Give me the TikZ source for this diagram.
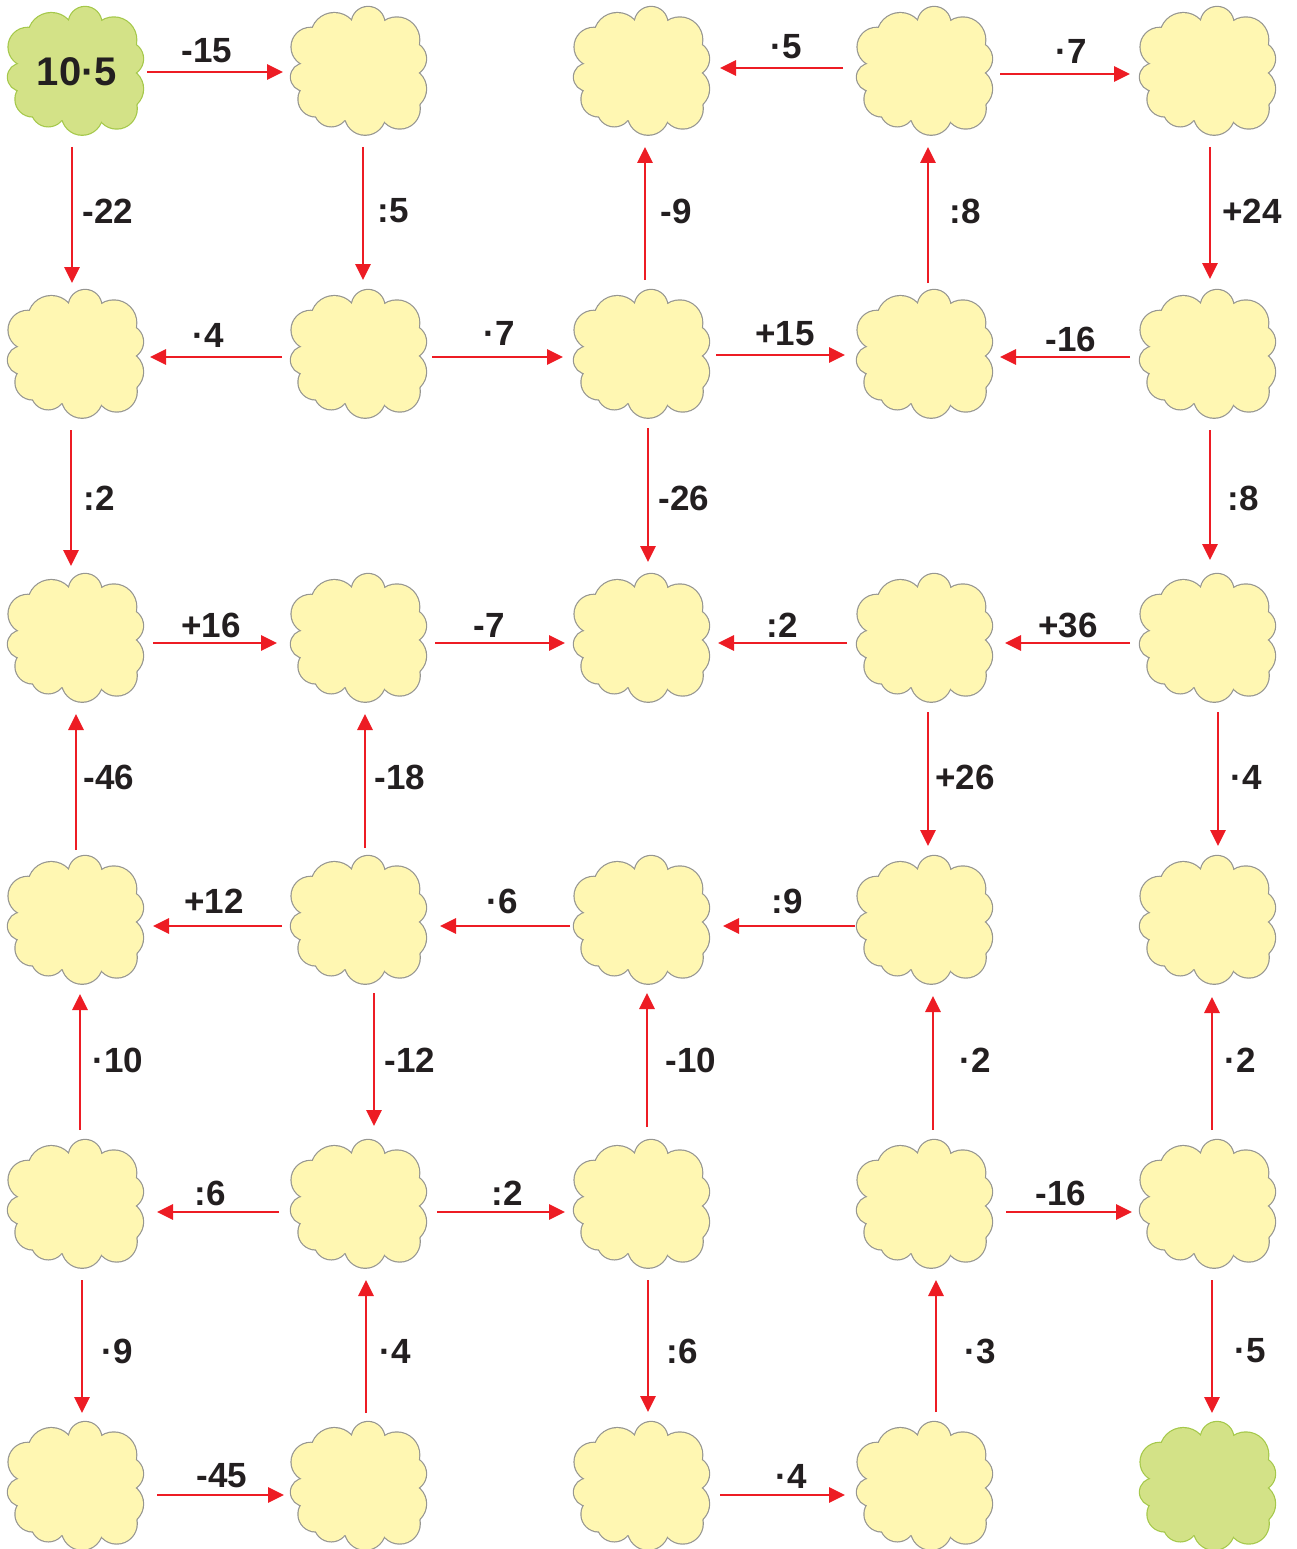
\documentclass[tikz,border=0pt]{standalone}
\usepackage{fontspec}
\setmainfont{Liberation Sans}
\usetikzlibrary{arrows.meta}
\definecolor{cloudY}{RGB}{255,247,178}
\definecolor{cloudYB}{RGB}{150,150,145}
\definecolor{cloudG}{RGB}{211,226,135}
\definecolor{cloudGB}{RGB}{165,200,75}
\definecolor{arrRed}{RGB}{237,28,36}
\definecolor{txtc}{RGB}{35,31,32}
\newcommand\harr[5]{\draw[arr, shorten <=#3pt, shorten >=#4pt] ([yshift=#5pt]#1.center) -- ([yshift=#5pt]#2.center);}
\newcommand\varr[5]{\draw[arr, shorten <=#3pt, shorten >=#4pt] ([xshift=#5pt]#1.center) -- ([xshift=#5pt]#2.center);}
\newcommand\puffs{8.1/-47.7/16.3, -25.7/-34.8/23.1, 36.8/-31.1/22.4, 49.2/-12.2/16.8, 45.4/17.9/20.6, 39.7/37.5/20, 5.15/43.5/20.2, -28.7/38.5/16.8, -44.3/28.2/17.2, -55.5/6.15/13.5, -49.3/-24/19.1}
\newcommand\cloudat[4]{% name, position, fill, border
  \node[cbox] (#1) at (#2) {};
  \begin{scope}[shift={(#1.center)}]
    \foreach \cx/\cy/\r in \puffs {\draw[draw=#4, line width=2.4pt] (\cx,\cy) circle[radius=\r pt];}
    \fill[#3] (-8,-49.7) -- (24.3,-49.7) -- (58.7,-26.3) -- (57.7,2) -- (59.3,33.7) -- (24.3,50.3) -- (-14,49.3) -- (-42.3,45.3) -- (-59,19.3) -- (-58,-7) -- (-47.3,-43) -- cycle;
    \foreach \cx/\cy/\r in \puffs {\fill[#3] (\cx,\cy) circle[radius=\r pt];}
  \end{scope}}
\begin{document}
\begin{tikzpicture}[x=1pt,y=-1pt,
  cbox/.style={rectangle, minimum width=138pt, minimum height=128pt, inner sep=0pt},
  arr/.style={draw=arrRed, line width=2.8pt, -{Triangle[length=16pt,width=15pt]}},
  lbl/.style={font=\bfseries\fontsize{35}{35}\selectfont, text=txtc, inner sep=0pt}]
\useasboundingbox (0,0) rectangle (1297,1549);
% clouds
\cloudat{n11}{77,71}{cloudG}{cloudGB}
\cloudat{n12}{360,71}{cloudY}{cloudYB}
\cloudat{n13}{643,71}{cloudY}{cloudYB}
\cloudat{n14}{926,71}{cloudY}{cloudYB}
\cloudat{n15}{1209,71}{cloudY}{cloudYB}
\cloudat{n21}{77,354}{cloudY}{cloudYB}
\cloudat{n22}{360,354}{cloudY}{cloudYB}
\cloudat{n23}{643,354}{cloudY}{cloudYB}
\cloudat{n24}{926,354}{cloudY}{cloudYB}
\cloudat{n25}{1209,354}{cloudY}{cloudYB}
\cloudat{n31}{77,638}{cloudY}{cloudYB}
\cloudat{n32}{360,638}{cloudY}{cloudYB}
\cloudat{n33}{643,638}{cloudY}{cloudYB}
\cloudat{n34}{926,638}{cloudY}{cloudYB}
\cloudat{n35}{1209,638}{cloudY}{cloudYB}
\cloudat{n41}{77,920}{cloudY}{cloudYB}
\cloudat{n42}{360,920}{cloudY}{cloudYB}
\cloudat{n43}{643,920}{cloudY}{cloudYB}
\cloudat{n44}{926,920}{cloudY}{cloudYB}
\cloudat{n45}{1209,920}{cloudY}{cloudYB}
\cloudat{n51}{77,1204}{cloudY}{cloudYB}
\cloudat{n52}{360,1204}{cloudY}{cloudYB}
\cloudat{n53}{643,1204}{cloudY}{cloudYB}
\cloudat{n54}{926,1204}{cloudY}{cloudYB}
\cloudat{n55}{1209,1204}{cloudY}{cloudYB}
\cloudat{n61}{77,1486}{cloudY}{cloudYB}
\cloudat{n62}{360,1486}{cloudY}{cloudYB}
\cloudat{n63}{643,1486}{cloudY}{cloudYB}
\cloudat{n64}{926,1486}{cloudY}{cloudYB}
\cloudat{n65}{1209,1486}{cloudG}{cloudGB}
\node[lbl, font=\bfseries\fontsize{40}{40}\selectfont] (start) at ([yshift=-1pt]n11.center) {10·5};
% horizontal arrows
\harr{n11}{n12}{70}{77}{-1}
\harr{n14}{n13}{83}{77}{3}
\harr{n14}{n15}{74}{79}{-3}
\harr{n22}{n21}{78}{73}{-3}
\harr{n22}{n23}{72}{80}{-3}
\harr{n23}{n24}{73}{81}{-1}
\harr{n25}{n24}{79}{74}{-3}
\harr{n31}{n32}{76}{83}{-5}
\harr{n32}{n33}{75}{78}{-5}
\harr{n34}{n33}{79}{75}{-5}
\harr{n35}{n34}{79}{79}{-5}
\harr{n42}{n41}{78}{76}{-6}
\harr{n43}{n42}{73}{80}{-6}
\harr{n44}{n43}{71}{80}{-6}
\harr{n52}{n51}{81}{80}{-8}
\harr{n52}{n53}{77}{78}{-8}
\harr{n54}{n55}{80}{77}{-8}
\harr{n61}{n62}{80}{76}{-9}
\harr{n63}{n64}{77}{81}{-9}
% vertical arrows
\varr{n11}{n21}{76}{71}{-5}
\varr{n12}{n22}{76}{74}{3}
\varr{n23}{n13}{74}{76}{2}
\varr{n24}{n14}{71}{76}{2}
\varr{n15}{n25}{76}{75}{1}
\varr{n21}{n31}{76}{72}{-6}
\varr{n23}{n33}{74}{76}{5}
\varr{n25}{n35}{76}{78}{1}
\varr{n41}{n31}{70}{76}{-1}
\varr{n42}{n32}{72}{76}{5}
\varr{n34}{n44}{74}{74}{2}
\varr{n35}{n45}{74}{74}{9}
\varr{n51}{n41}{74}{74}{3}
\varr{n42}{n52}{73}{78}{14}
\varr{n53}{n43}{77}{73}{4}
\varr{n54}{n44}{74}{76}{7}
\varr{n55}{n45}{74}{77}{3}
\varr{n51}{n61}{76}{73}{5}
\varr{n62}{n52}{73}{76}{6}
\varr{n53}{n63}{76}{74}{5}
\varr{n64}{n54}{74}{76}{10}
\varr{n55}{n65}{76}{73}{3}
% labels
\node[lbl] (t1) at (207,51) {-15};
\node[lbl] (t2) at (786,47) {·5};
\node[lbl] (t3) at (1071,51) {·7};
\node[lbl] (t4) at (208,335) {·4};
\node[lbl] (t5) at (499,333) {·7};
\node[lbl] (t6) at (785,334) {+15};
\node[lbl] (t7) at (1071,339) {-16};
\node[lbl] (t8) at (211,625) {+16};
\node[lbl] (t9) at (489,625) {-7};
\node[lbl] (t10) at (782,625) {:2};
\node[lbl] (t11) at (1068,625) {+36};
\node[lbl] (t12) at (214,901) {+12};
\node[lbl] (t13) at (502,901) {·6};
\node[lbl] (t14) at (787,901) {:9};
\node[lbl] (t15) at (210,1193) {:6};
\node[lbl] (t16) at (507,1193) {:2};
\node[lbl] (t17) at (1061,1193) {-16};
\node[lbl] (t18) at (222,1476) {-45};
\node[lbl] (t19) at (791,1476) {·4};
\node[lbl] (t20) at (108,211) {-22};
\node[lbl] (t21) at (393,211) {:5};
\node[lbl] (t22) at (676,211) {-9};
\node[lbl] (t23) at (965,211) {:8};
\node[lbl] (t24) at (1252,211) {+24};
\node[lbl] (t25) at (99,498) {:2};
\node[lbl] (t26) at (684,498) {-26};
\node[lbl] (t27) at (1243,498) {:8};
\node[lbl] (t28) at (109,777) {-46};
\node[lbl] (t29) at (400,777) {-18};
\node[lbl] (t30) at (965,777) {+26};
\node[lbl] (t31) at (1246,777) {·4};
\node[lbl] (t32) at (118,1060) {·10};
\node[lbl] (t33) at (410,1060) {-12};
\node[lbl] (t34) at (691,1060) {-10};
\node[lbl] (t35) at (975,1060) {·2};
\node[lbl] (t36) at (1240,1060) {·2};
\node[lbl] (t37) at (117,1351) {·9};
\node[lbl] (t38) at (395,1351) {·4};
\node[lbl] (t39) at (682,1351) {:6};
\node[lbl] (t40) at (980,1351) {·3};
\node[lbl] (t41) at (1250,1351) {·5};
\end{tikzpicture}
\end{document}
